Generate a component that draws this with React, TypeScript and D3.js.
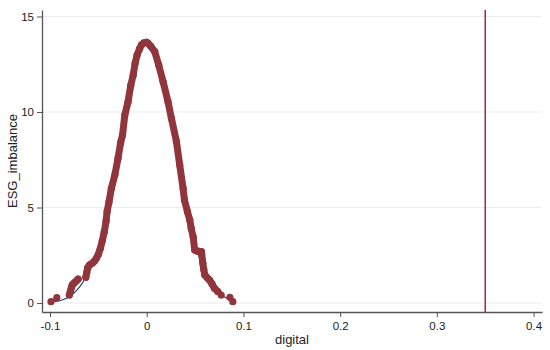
import React, { useEffect, useRef } from 'react';
import * as d3 from 'd3';

// x ticks and y ticks
const xTicks = [-0.1, 0, 0.1, 0.2, 0.3, 0.4];
const yTicks = [0, 5, 10, 15];

// isolated dots in the tails
const tailDots: [number, number][] = [
  [-0.099, 0.07], [-0.093, 0.28],
  [0.077, 0.42], [0.086, 0.3], [0.089, 0.07],
];

// left cluster (separate run)
const leftRun: [number, number][] = [
  [-0.080, 0.42], [-0.079, 0.6], [-0.078, 0.8], [-0.077, 0.95],
  [-0.075, 1.05], [-0.073, 1.15], [-0.071, 1.25],
];

// main run of density points
const mainRun: [number, number][] = [
  [-0.063, 1.35], [-0.062, 1.6], [-0.061, 1.85], [-0.059, 2.0], [-0.056, 2.1],
  [-0.054, 2.2], [-0.052, 2.35], [-0.050, 2.55], [-0.048, 2.85], [-0.046, 3.25],
  [-0.044, 3.7], [-0.042, 4.3], [-0.041, 4.78], [-0.039, 5.3], [-0.0366, 6.0],
  [-0.033, 6.7], [-0.0297, 7.58], [-0.027, 8.4], [-0.025, 8.8], [-0.0227, 9.84],
  [-0.0193, 10.54], [-0.0165, 11.4], [-0.014, 11.94], [-0.012, 12.55],
  [-0.010, 12.98], [-0.0075, 13.3], [-0.0055, 13.51], [-0.003, 13.62],
  [0.0, 13.65], [0.0014, 13.6], [0.004, 13.45], [0.0083, 13.16], [0.0124, 12.46],
  [0.0169, 11.59], [0.022, 10.54], [0.0255, 9.67], [0.0307, 8.45], [0.0341, 7.23],
  [0.0376, 6.0], [0.039, 5.39], [0.0421, 4.78], [0.0445, 4.35], [0.046, 3.9],
  [0.048, 3.47], [0.0496, 2.77], [0.052, 2.72], [0.0545, 2.7], [0.0566, 2.69],
  [0.058, 2.08], [0.059, 1.75], [0.060, 1.47], [0.0625, 1.32], [0.065, 1.2],
  [0.0675, 1.0], [0.070, 0.77], [0.0735, 0.6],
];

// fitted curve (blue)
const fitX = [-0.1, -0.09, -0.08, -0.07, -0.06, -0.05, -0.04, -0.03, -0.02, -0.01,
  0, 0.01, 0.02, 0.03, 0.04, 0.05, 0.06, 0.07, 0.08, 0.09];
const fitY = [0.04, 0.12, 0.33, 0.8, 1.65, 3.0, 4.9, 7.3, 10.2, 12.6,
  13.6, 12.9, 10.8, 8.0, 5.4, 3.1, 1.65, 0.8, 0.33, 0.12];

const refLine = 0.35;

const App = () => {
  const ref = useRef<SVGSVGElement>(null);

  useEffect(() => {
    const svg = d3.select(ref.current);
    svg.selectAll('*').remove();

    const x = d3.scaleLinear().domain([-0.1083, 0.4087]).range([42, 542]);
    const y = d3.scaleLinear().domain([-0.47, 15.34]).range([312, 10]);
    const font = 'Liberation Sans, Arial, sans-serif';
    const dotColor = '#90353b';

    // gridlines
    svg.append('g')
      .selectAll('line')
      .data(yTicks)
      .enter()
      .append('line')
      .attr('x1', x.range()[0])
      .attr('x2', x.range()[1])
      .attr('y1', d => y(d))
      .attr('y2', d => y(d))
      .attr('stroke', '#ececec')
      .attr('stroke-width', 1);

    // fitted line
    const fitLine = d3.line<number>()
      .x(d => x(d))
      .y((d, i) => y(fitY[i]))
      .curve(d3.curveCatmullRom);
    svg.append('path')
      .attr('d', fitLine(fitX))
      .attr('fill', 'none')
      .attr('stroke', '#1a476f')
      .attr('stroke-width', 1.2);

    // density dots: joined runs + circles
    const runLine = d3.line<[number, number]>()
      .x(d => x(d[0]))
      .y(d => y(d[1]));
    [leftRun, mainRun].forEach(run => {
      svg.append('path')
        .attr('d', runLine(run))
        .attr('fill', 'none')
        .attr('stroke', dotColor)
        .attr('stroke-width', 7)
        .attr('stroke-linejoin', 'round')
        .attr('stroke-linecap', 'round');
    });
    svg.append('g')
      .selectAll('circle')
      .data([...tailDots, ...leftRun, ...mainRun])
      .enter()
      .append('circle')
      .attr('cx', d => x(d[0]))
      .attr('cy', d => y(d[1]))
      .attr('r', 3.6)
      .attr('fill', dotColor);

    // reference line
    svg.append('line')
      .attr('x1', x(refLine))
      .attr('x2', x(refLine))
      .attr('y1', y.range()[1])
      .attr('y2', y.range()[0])
      .attr('stroke', '#a3283f')
      .attr('stroke-width', 1.5);

    // x axis
    const xAxis = svg.append('g')
      .attr('transform', `translate(0,${y.range()[0]})`)
      .call(d3.axisBottom(x).tickValues(xTicks).tickSize(5).tickSizeOuter(0)
        .tickFormat(d => String(d)));
    xAxis.select('.domain').attr('stroke', '#555').attr('stroke-width', 1.3);
    xAxis.selectAll('.tick line').attr('stroke', '#555');
    xAxis.selectAll('text')
      .attr('font-family', font)
      .attr('font-size', 11.5)
      .attr('fill', '#222')
      .attr('dy', '0.9em');

    // y axis
    const yAxis = svg.append('g')
      .attr('transform', `translate(${x.range()[0]},0)`)
      .call(d3.axisLeft(y).tickValues(yTicks).tickSize(5).tickSizeOuter(0));
    yAxis.select('.domain').attr('stroke', '#555').attr('stroke-width', 1.3);
    yAxis.selectAll('.tick line').attr('stroke', '#555');
    yAxis.selectAll('text')
      .attr('font-family', font)
      .attr('font-size', 11.5)
      .attr('fill', '#222');

    // axis titles
    svg.append('text')
      .attr('x', 292)
      .attr('y', 344)
      .attr('text-anchor', 'middle')
      .attr('font-family', font)
      .attr('font-size', 13)
      .attr('fill', '#222')
      .text('digital');

    svg.append('text')
      .attr('transform', 'rotate(-90)')
      .attr('x', -161)
      .attr('y', 17)
      .attr('text-anchor', 'middle')
      .attr('font-family', font)
      .attr('font-size', 13)
      .attr('fill', '#222')
      .text('ESG_imbalance');
  }, []);

  return (
    <svg
      ref={ref}
      width={550}
      height={350}
      style={{ position: 'absolute', left: 0, top: 0, background: '#fff' }}
    />
  );
};

export default App;
